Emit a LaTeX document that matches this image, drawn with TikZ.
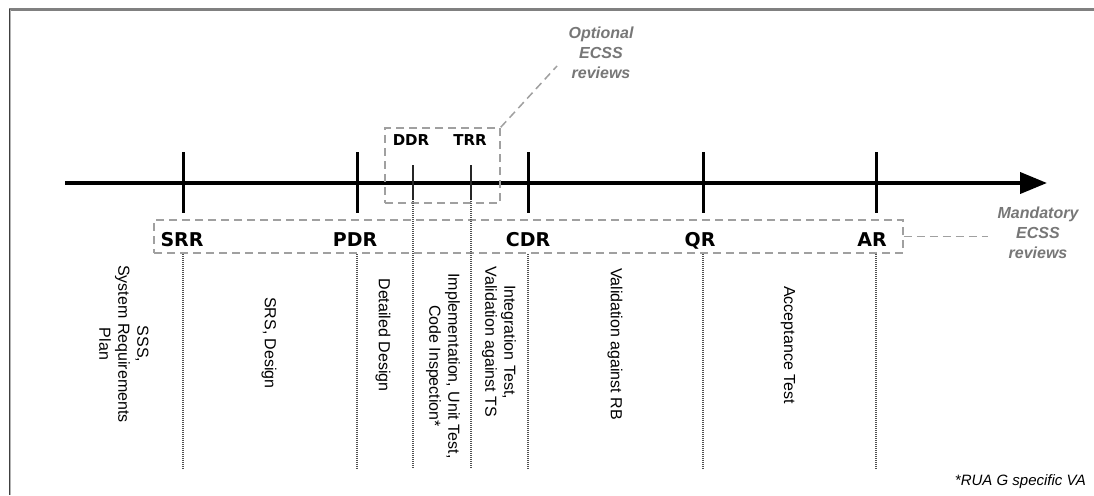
\documentclass[tikz,border=0pt]{standalone}
\usepackage{fontspec}
\setmainfont{Liberation Sans}
\newfontfamily\reviewfont{DejaVu Sans}
\usetikzlibrary{arrows.meta}

\definecolor{framedark}{HTML}{404040}
\definecolor{framegray}{HTML}{808080}
\definecolor{groupgray}{HTML}{A0A0A0}
\definecolor{notegray}{HTML}{777777}
\definecolor{phasegray}{HTML}{505050}

\tikzset{
  timeline/.style={line width=4pt, -{Triangle[length=27pt,width=21pt]}},
  milestone/.style={line width=3pt},
  minortick/.style={line width=1.5pt, draw=black!85},
  phaseline/.style={draw=phasegray, line width=1.3pt, dash pattern=on 1pt off 1pt},
  groupbox/.style={draw=groupgray, line width=1.5pt, dash pattern=on 8pt off 5pt,
    inner sep=0pt},
  groupline/.style={draw=groupgray, line width=1.5pt, dash pattern=on 8pt off 5pt},
  review/.style={font=\reviewfont\bfseries\fontsize{19}{21}\selectfont,
    inner sep=0pt, anchor=base},
  minorreview/.style={font=\reviewfont\bfseries\fontsize{15}{17}\selectfont,
    inner sep=0pt, anchor=base},
  groupnote/.style={text=notegray, align=center, inner sep=2pt,
    font=\bfseries\itshape\fontsize{16}{20}\selectfont},
  activity/.style={rotate=-90, align=center, inner sep=0pt,
    font=\fontsize{16}{19}\selectfont},
  footnote/.style={font=\itshape\fontsize{15}{18}\selectfont, inner sep=0pt}
}

\begin{document}
\begin{tikzpicture}[x=1pt, y=-1pt]
  \useasboundingbox (0,0) rectangle (1094,495);
  \fill[white] (0,0) rectangle (1094,495);

  % window frame
  \draw[framegray, line width=2.5pt] (9,9.5) -- (1094,9.5);
  \draw[framedark, line width=1.2pt] (9.6,9) -- (9.6,495);
  \draw[framegray!60, line width=1pt] (10.8,10.5) -- (10.8,495);

  % time axis
  \coordinate (origin) at (65,183);
  \coordinate (tip) at (1047,183);
  \draw[timeline] (origin) -- (tip);

  % mandatory milestones
  \coordinate (tSRR) at (183,183);
  \coordinate (tPDR) at (357,183);
  \coordinate (tCDR) at (528,183);
  \coordinate (tQR)  at (703,183);
  \coordinate (tAR)  at (876,183);
  \foreach \m in {tSRR,tPDR,tCDR,tQR,tAR}
    \draw[milestone] (\m) ++(0,-31) -- ++(0,61);

  % optional milestones
  \coordinate (tDDR) at (413,183);
  \coordinate (tTRR) at (471,183);
  \foreach \m in {tDDR,tTRR}
    \draw[minortick] (\m) ++(0,-18) -- ++(0,35);

  % group of mandatory reviews
  \node[groupbox, minimum width=749pt, minimum height=33pt] (mand) at (528.5,236.5) {};
  \node[review] (srr) at (182,246) {SRR};
  \node[review] (pdr) at (355,246) {PDR};
  \node[review] (cdr) at (528,246) {CDR};
  \node[review] (qr)  at (700,246) {QR};
  \node[review] (ar)  at (872,246) {AR};

  % group of optional reviews
  \node[groupbox, minimum width=115pt, minimum height=75pt] (opt) at (442.5,165.5) {};
  \node[minorreview] (ddr) at (411,145.5) {DDR};
  \node[minorreview] (trr) at (470,145.5) {TRR};

  % group captions and their leaders
  \node[groupnote] (optnote) at (601,53) {Optional\\ECSS\\reviews};
  \coordinate (optlead) at (557,66);
  \draw[groupline] (opt.north east) -- (optlead);

  \node[groupnote] (mandnote) at (1038,233) {Mandatory\\ECSS\\reviews};
  \draw[groupline] (mand.east) -- (mand.east -| 988,0);

  % phase separators
  \foreach \m in {tSRR,tPDR,tCDR,tQR,tAR}
    \draw[phaseline] (\m |- mand.south) -- (\m |- 0,468);
  \foreach \m in {tDDR,tTRR}
    \draw[phaseline] (\m) ++(0,18) -- (\m |- 0,468);

  % activities of each phase
  \node[activity] (a1) at (124,344) {SSS,\\System Requirements\\Plan};
  \node[activity] (a2) at (269,343) {SRS, Design};
  \node[activity] (a3) at (383,335) {Detailed Design};
  \node[activity] (a4) at (443,366) {Implementation, Unit Test,\\Code Inspection*};
  \node[activity] (a5) at (499,342) {Integration Test,\\Validation against TS};
  \node[activity] (a6) at (615,344) {Validation against RB};
  \node[activity] (a7) at (788,345) {Acceptance Test};

  \node[footnote, anchor=east] (fn) at (1086,482) {*RUA G specific VA};
\end{tikzpicture}
\end{document}
